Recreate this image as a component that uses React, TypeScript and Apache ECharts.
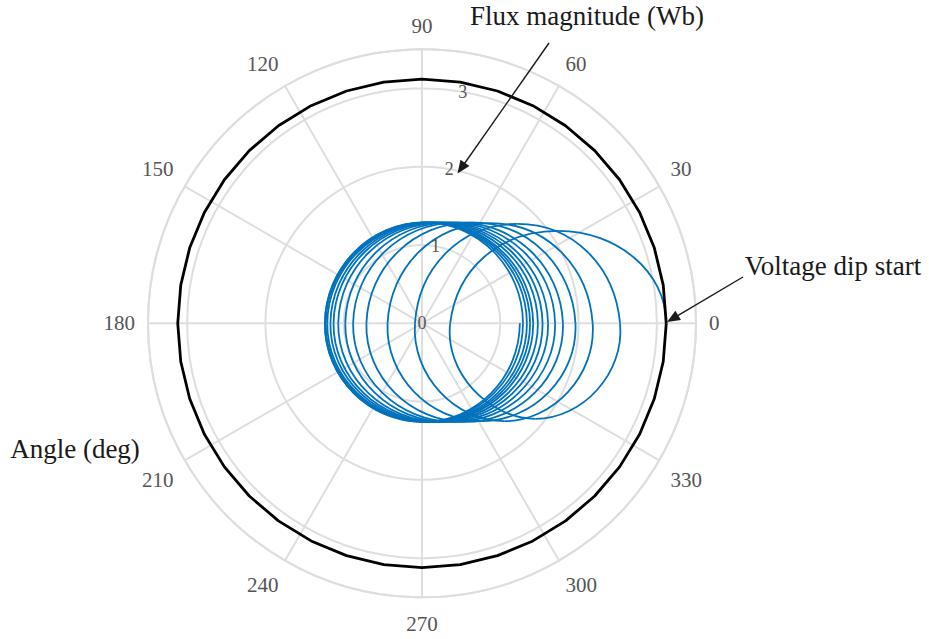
import React, { useEffect, useRef } from "react";
import * as echarts from "echarts";

// ---- Data ----
// Angle axis ticks (deg) and radius axis range (Wb)
const angleInterval = 30;
const radiusMax = 3.5;
const radiusInterval = 1;

// Pre-dip steady-state flux locus (black circle): constant magnitude, sampled angles
const preDipMagnitude = 3.12;
const preDipAngles = [
  0, 9, 18, 27, 36, 45, 54, 63, 72, 81, 90, 99, 108, 117, 126, 135, 144, 153, 162, 171,
  180, 189, 198, 207, 216, 225, 234, 243, 252, 261, 270, 279, 288, 297, 306, 315, 324, 333,
  342, 351, 360,
];

// Post-dip flux trajectory (blue), read at each quarter turn (Cartesian, Wb)
// Crossings of the 0 deg direction (right side)
const rightCrossX = [3.12, 2.53, 2.18, 1.96, 1.8, 1.7, 1.61, 1.54, 1.48, 1.42, 1.38, 1.34, 1.29, 1.25];
// Highest point of each loop
const topX = [1.74, 1.22, 0.87, 0.63, 0.46, 0.36, 0.27, 0.21, 0.16, 0.11, 0.08, 0.05, 0.03];
const topY = [1.18, 1.27, 1.28, 1.29, 1.29, 1.29, 1.29, 1.29, 1.29, 1.29, 1.29, 1.29, 1.29];
// Crossings of the 180 deg direction (left side)
const leftCrossX = [0.36, -0.09, -0.44, -0.71, -0.88, -0.98, -1.07, -1.13, -1.17, -1.21, -1.23, -1.24, -1.24];
// Lowest point of each loop
const bottomX = [1.45, 1.05, 0.76, 0.55, 0.41, 0.32, 0.24, 0.18, 0.13, 0.09, 0.06, 0.03, 0.01];
const bottomY = [-1.22, -1.25, -1.25, -1.26, -1.26, -1.26, -1.26, -1.26, -1.26, -1.26, -1.26, -1.26, -1.26];

// ---- Styling ----
const FONT = "'Liberation Serif', 'DejaVu Serif', serif";
const GRID = "#dedede";
const BLUE = "#0072BD";
const SMOOTH = 0.55;

function toPolar(x: number, y: number): [number, number] {
  const r = Math.sqrt(x * x + y * y);
  let a = (Math.atan2(y, x) * 180) / Math.PI;
  if (a < 0) a += 360;
  return [r, a];
}

// sequence of readings: right -> top -> left -> bottom -> right ...
function trajectoryXY(): [number, number][] {
  const pts: [number, number][] = [];
  for (let k = 0; k < rightCrossX.length; k++) {
    pts.push([rightCrossX[k], 0]);
    if (k < topX.length) {
      pts.push([topX[k], topY[k]]);
      pts.push([leftCrossX[k], 0]);
      pts.push([bottomX[k], bottomY[k]]);
    }
  }
  return pts;
}

const trajectory = trajectoryXY();
const trajectoryPolar = trajectory.map(([x, y]) => toPolar(x, y));

function arrow(x1: number, y1: number, x2: number, y2: number) {
  const dx = x2 - x1;
  const dy = y2 - y1;
  const len = Math.sqrt(dx * dx + dy * dy);
  const ux = dx / len;
  const uy = dy / len;
  const hl = 13;
  const hw = 5.5;
  const bx = x2 - ux * hl;
  const by = y2 - uy * hl;
  return [
    {
      type: "line",
      shape: { x1, y1, x2: bx + ux * 2, y2: by + uy * 2 },
      style: { stroke: "#1a1a1a", lineWidth: 1.4 },
      z: 20,
    },
    {
      type: "polygon",
      shape: {
        points: [
          [x2, y2],
          [bx - uy * hw, by + ux * hw],
          [bx + uy * hw, by - ux * hw],
        ],
      },
      style: { fill: "#1a1a1a" },
      z: 20,
    },
  ];
}

export default function App() {
  const ref = useRef<HTMLDivElement>(null);

  useEffect(() => {
    if (!ref.current) return;
    const chart = echarts.init(ref.current, undefined, { renderer: "svg" });
    const center = [422, 323.3];
    const radius = 274;

    const renderTrajectory = (params: any, api: any) => {
      if (params.dataIndex !== 0) return null;
      const pix: number[][] = trajectoryPolar.map((p) => api.coord(p));
      const n = pix.length;
      // tangent guides for the two ends (the loop continues vertically there)
      const startGuide = api.coord(toPolar(topX[0], -topY[0]));
      const endGuide = api.coord(toPolar(topX[topX.length - 1], topY[topY.length - 1]));
      const get = (i: number) => (i < 0 ? startGuide : i >= n ? endGuide : pix[i]);
      const cpIn: number[][] = [];
      const cpOut: number[][] = [];
      for (let i = 0; i < n; i++) {
        const p = pix[i];
        const prev = get(i - 1);
        const next = get(i + 1);
        const vx = next[0] - prev[0];
        const vy = next[1] - prev[1];
        const lp = Math.hypot(p[0] - prev[0], p[1] - prev[1]);
        const ln = Math.hypot(next[0] - p[0], next[1] - p[1]);
        const r = lp + ln > 0 ? ln / (lp + ln) : 0.5;
        cpOut.push([p[0] + vx * SMOOTH * r, p[1] + vy * SMOOTH * r]);
        cpIn.push([p[0] - vx * SMOOTH * (1 - r), p[1] - vy * SMOOTH * (1 - r)]);
      }
      const children: any[] = [];
      for (let i = 0; i < n - 1; i++) {
        children.push({
          type: "bezierCurve",
          shape: {
            x1: pix[i][0],
            y1: pix[i][1],
            x2: pix[i + 1][0],
            y2: pix[i + 1][1],
            cpx1: cpOut[i][0],
            cpy1: cpOut[i][1],
            cpx2: cpIn[i + 1][0],
            cpy2: cpIn[i + 1][1],
          },
          style: { stroke: BLUE, lineWidth: 1.8, fill: "none" },
        });
      }
      return { type: "group", children };
    };

    const option: any = {
      animation: false,
      backgroundColor: "#ffffff",
      polar: [
        { center, radius },
        { center, radius },
      ],
      angleAxis: [
        {
          polarIndex: 0,
          type: "value",
          min: 0,
          max: 360,
          interval: angleInterval,
          startAngle: 0,
          clockwise: false,
          axisLine: { show: true, lineStyle: { color: GRID, width: 2 } },
          axisTick: { show: false },
          splitLine: { show: true, lineStyle: { color: GRID, width: 2 } },
          axisLabel: {
            margin: 13,
            padding: [3, 0, 0, 0],
            fontSize: 21,
            fontFamily: FONT,
            color: "#555555",
          },
        },
        {
          polarIndex: 1,
          type: "value",
          min: 0,
          max: 360,
          startAngle: 80,
          clockwise: false,
          axisLine: { show: false },
          axisTick: { show: false },
          splitLine: { show: false },
          axisLabel: { show: false },
        },
      ],
      radiusAxis: [
        {
          polarIndex: 0,
          type: "value",
          min: 0,
          max: radiusMax,
          interval: radiusInterval,
          axisLine: { show: false },
          axisTick: { show: false },
          axisLabel: { show: false },
          splitLine: { show: true, lineStyle: { color: GRID, width: 2 } },
        },
        {
          polarIndex: 1,
          type: "value",
          min: 0,
          max: radiusMax,
          interval: radiusInterval,
          axisLine: { show: false },
          axisTick: { show: false },
          splitLine: { show: false },
          z: 10,
          axisLabel: {
            margin: 0,
            align: "center",
            verticalAlign: "middle",
            showMaxLabel: false,
            fontSize: 18,
            fontFamily: FONT,
            color: "#555555",
            formatter: (v: number) => (v > 3 ? "" : String(v)),
          },
        },
      ],
      series: [
        {
          type: "custom",
          coordinateSystem: "polar",
          polarIndex: 0,
          encode: { radius: 0, angle: 1 },
          renderItem: renderTrajectory,
          data: trajectoryPolar,
          silent: true,
          z: 3,
        },
        {
          type: "line",
          coordinateSystem: "polar",
          polarIndex: 0,
          showSymbol: false,
          lineStyle: { color: "#000000", width: 2.8 },
          data: preDipAngles.map((a) => [preDipMagnitude, a]),
          z: 4,
        },
      ],
      graphic: [
        {
          type: "text",
          x: 587,
          y: 16,
          style: {
            text: "Flux magnitude (Wb)",
            font: `27px ${FONT}`,
            fill: "#1a1a1a",
            align: "center",
            verticalAlign: "middle",
          },
        },
        {
          type: "text",
          x: 833,
          y: 266,
          style: {
            text: "Voltage dip start",
            font: `27px ${FONT}`,
            fill: "#1a1a1a",
            align: "center",
            verticalAlign: "middle",
          },
        },
        {
          type: "text",
          x: 75,
          y: 449,
          style: {
            text: "Angle (deg)",
            font: `27px ${FONT}`,
            fill: "#1a1a1a",
            align: "center",
            verticalAlign: "middle",
          },
        },
        ...arrow(549, 43, 457.5, 173.5),
        ...arrow(743, 277, 667, 322),
      ],
    };

    chart.setOption(option);
    return () => chart.dispose();
  }, []);

  return (
    <div
      ref={ref}
      style={{ position: "fixed", left: 0, top: 0, width: 929, height: 639, background: "#fff" }}
    />
  );
}
